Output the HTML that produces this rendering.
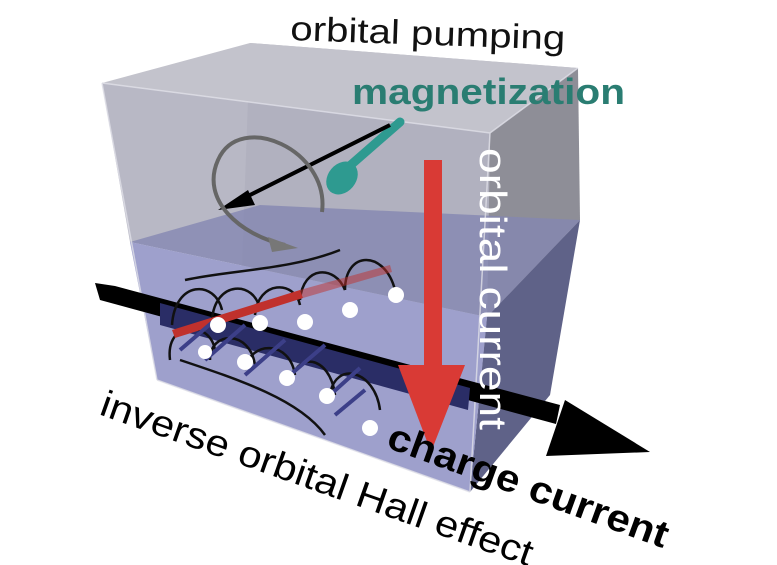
<!DOCTYPE html>
<html><head><meta charset="utf-8"><style>
html,body{margin:0;padding:0;background:#fff;}
svg{display:block}
text{font-family:"Liberation Sans",sans-serif;}
</style></head><body>
<svg width="777" height="565" viewBox="0 0 777 565" xmlns="http://www.w3.org/2000/svg">
<polygon points="250,43 578,68 550,395 240,320" fill="#b9b9c4"/>
<polygon points="102,83 250,43 578,68 490,133" fill="#c3c3cc"/>
<polygon points="490,133 578,68 580,220 487,317" fill="#8e8e97"/>
<polygon points="487,317 580,220 550,395 470,492" fill="#5f6288"/>
<polygon points="102,83 490,133 487,317 130,242" fill="#b0b0bf" opacity="0.9"/>
<polygon points="130,242 260,205 580,220 487,317" fill="#8587b2" opacity="0.8"/>
<polygon points="130,242 487,317 470,492 157,380" fill="#9ea0cc"/>
<g stroke="#e0e0e8" stroke-width="1.5" fill="none" opacity="0.8">
<polyline points="102,83 490,133 578,68"/><line x1="490" y1="133" x2="470" y2="492"/>
<line x1="102" y1="83" x2="157" y2="380"/><line x1="157" y1="380" x2="470" y2="492"/>
</g>
<polygon points="95,283 115,286 560,405 556,424 100,300" fill="#000"/>
<polygon points="160,303 470,388 468,410 160,325" fill="#2a2d66"/>
<polygon points="565,400 650,452 546,456" fill="#000"/>
<rect x="424" y="160" width="18" height="210" fill="#d93a35"/>
<polygon points="398,365 465,365 431,452" fill="#d93a35"/>
<line x1="400" y1="122" x2="345" y2="170" stroke="#2e9a90" stroke-width="9" stroke-linecap="round"/>
<ellipse cx="342" cy="178" rx="14" ry="18" transform="rotate(40 342 178)" fill="#2e9a90"/>
<line x1="390" y1="125" x2="240" y2="200" stroke="#000" stroke-width="4"/>
<polygon points="218,210 248,190 255,205" fill="#000"/>
<path d="M322,212 C330,150 240,110 218,160 C200,200 240,235 285,245" stroke="#666" stroke-width="4" fill="none"/>
<polygon points="298,248 268,237 272,252" fill="#777"/>
<g stroke="#111" stroke-width="2.5" fill="none">
<path d="M340,250 C290,270 230,270 185,280"/>
<path d="M172,325 C175,280 215,280 222,310"/><path d="M212,320 C215,280 255,280 260,310"/>
<path d="M255,315 C258,280 295,280 300,305"/><path d="M300,300 C303,265 335,265 345,290"/>
<path d="M345,290 C345,250 385,250 395,290"/>
<path d="M170,360 C165,320 210,320 215,350"/><path d="M210,360 C210,330 250,330 255,365"/>
<path d="M245,370 C250,340 290,340 295,375"/><path d="M290,385 C295,350 330,355 335,395"/>
<path d="M330,395 C335,360 375,370 380,410"/>
<path d="M180,360 C240,380 300,400 325,435"/>
</g>
<g fill="#c0312d"><polygon points="172,330 300,290 303,298 175,338"/><polygon points="300,290 390,265 392,272 303,298" opacity="0.5"/></g>
<g stroke="#3c3f88" stroke-width="4">
<line x1="180" y1="350" x2="215" y2="320"/><line x1="205" y1="360" x2="245" y2="325"/><line x1="245" y1="375" x2="285" y2="340"/>
<line x1="290" y1="375" x2="325" y2="345"/><line x1="330" y1="395" x2="360" y2="368"/><line x1="335" y1="415" x2="365" y2="390"/>
</g>
<g fill="#fff">
<circle cx="396" cy="295" r="8"/><circle cx="350" cy="310" r="8"/><circle cx="305" cy="322" r="8"/>
<circle cx="260" cy="323" r="8"/><circle cx="218" cy="325" r="8"/>
<circle cx="205" cy="352" r="7"/><circle cx="245" cy="362" r="8"/><circle cx="287" cy="378" r="8"/>
<circle cx="327" cy="396" r="8"/><circle cx="370" cy="428" r="8"/>
</g>
<text x="290" y="40" font-size="34" fill="#111" transform="rotate(2 290 40)" textLength="275" lengthAdjust="spacingAndGlyphs">orbital pumping</text>
<text x="352" y="104" font-size="36" font-weight="bold" fill="#2a7d72" textLength="273" lengthAdjust="spacingAndGlyphs">magnetization</text>
<text x="0" y="0" font-size="38" fill="#fff" transform="translate(480,148) rotate(90)" textLength="282" lengthAdjust="spacingAndGlyphs">orbital current</text>
<text x="0" y="0" font-size="38" font-weight="bold" fill="#000" transform="translate(385,447) rotate(20)" textLength="296" lengthAdjust="spacingAndGlyphs">charge current</text>
<text x="0" y="0" font-size="37" fill="#000" transform="translate(98,414) rotate(19.5)" textLength="456" lengthAdjust="spacingAndGlyphs">inverse orbital Hall effect</text>
</svg>
</body></html>
